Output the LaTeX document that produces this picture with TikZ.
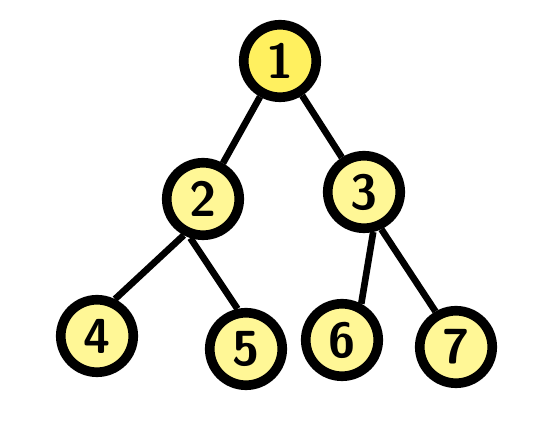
\documentclass[tikz,border=0pt]{standalone}
\usepackage{tikz}
\usetikzlibrary{positioning}
\definecolor{treeyellow}{RGB}{255,247,150}
\definecolor{rootyellow}{RGB}{255,240,95}

\begin{document}
\begin{tikzpicture}[
  x=0.02cm, y=-0.02cm,
  vert/.style={circle, draw=black, line width=5.5pt, fill=#1,
               minimum size=1.45cm, inner sep=0pt,
               font=\sffamily\bfseries\fontsize{28}{28}\selectfont},
  vert/.default=treeyellow,
  edge/.style={line width=3.8pt, draw=black}
]
\useasboundingbox (0,0) rectangle (539,438);
\node[vert=rootyellow] (N1) at (280,61)  {1};
\node[vert]            (N2) at (203,199) {2};
\node[vert]            (N3) at (364,192) {3};
\node[vert]            (N4) at (97,336)  {4};
\node[vert]            (N5) at (246,349) {5};
\node[vert]            (N6) at (342,340) {6};
\node[vert]            (N7) at (456,347) {7};
% edges leave the lower nodes slightly off centre, as in the sketch
\draw[edge] (N1) -- (N2);
\draw[edge] (N1) -- (N3);
\draw[edge] (N2.-118) -- (N4.64);
\draw[edge] (N2.-108) -- (N5.102);
\draw[edge] (N3.-77) -- (N6.62);
\draw[edge] (N3.-65) -- (N7.120);
\end{tikzpicture}
\end{document}
